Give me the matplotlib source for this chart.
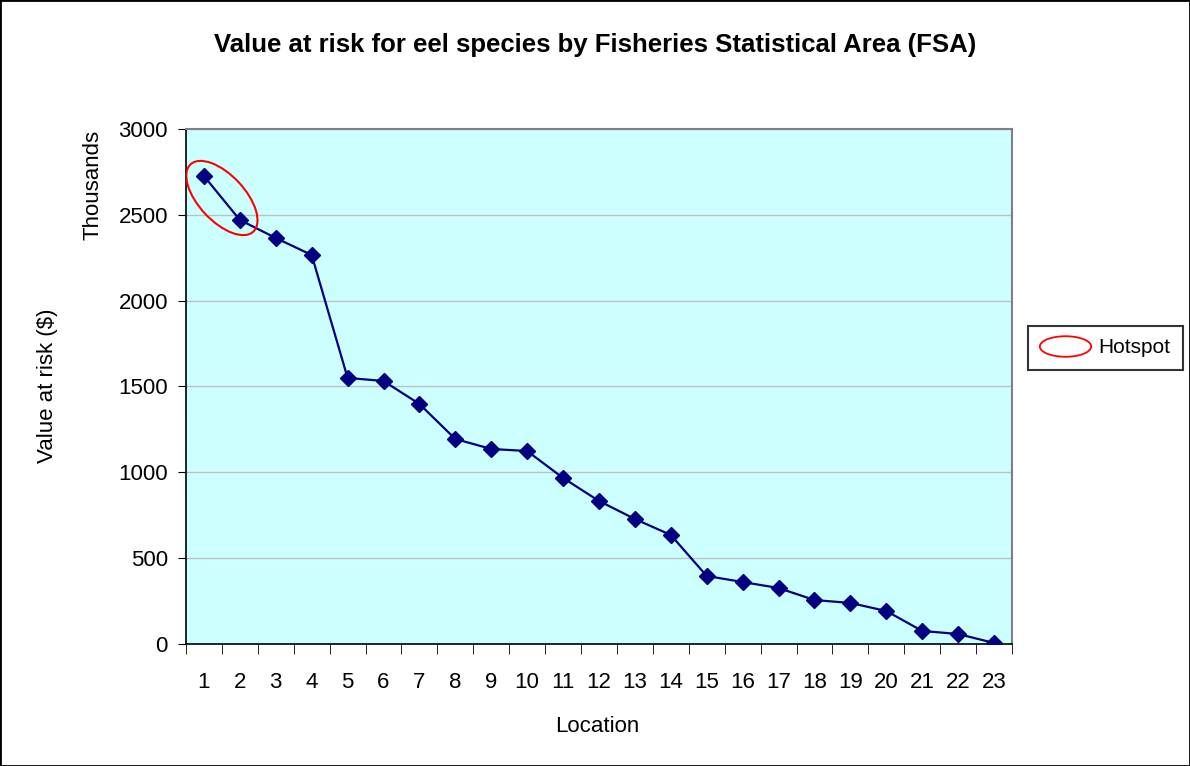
import matplotlib.pyplot as plt
from matplotlib.patches import Ellipse, Rectangle
from matplotlib.path import Path
from matplotlib.lines import Line2D
from matplotlib.transforms import Affine2D, ScaledTranslation

plt.rcParams['font.family'] = ['Liberation Sans', 'DejaVu Sans']

locations = list(range(1, 24))
value_k = [2726, 2470, 2365, 2266, 1550, 1532, 1398, 1194, 1136, 1124, 967,
           833, 728, 635, 396, 361, 326, 256, 239, 192, 76, 58, 6]
y_ticks = [0, 500, 1000, 1500, 2000, 2500, 3000]

fig = plt.figure(figsize=(11.9, 7.66), dpi=100)
ax = fig.add_axes([0.1563, 0.1593, 0.6941, 0.6723])
ax.set_facecolor('#ccffff')

ax.plot(locations, value_k, color='#000080', lw=1.6, marker='D', ms=8,
        markerfacecolor='#000080', markeredgecolor='#000080', zorder=3)

ax.set_xlim(0.5, 23.5)
ax.set_ylim(0, 3000)
ax.set_yticks(y_ticks)
ax.set_xticks(locations)
ax.set_xticks([i + 0.5 for i in range(0, 24)], minor=True)
ax.tick_params(axis='x', which='major', length=0, pad=20, labelsize=16)
ax.tick_params(axis='x', which='minor', length=7, direction='out', color='black')
ax.tick_params(axis='y', length=6, direction='out', labelsize=16, pad=7)
ax.yaxis.grid(True, color='#c0c0c0', lw=1)
ax.set_axisbelow(True)
for s in ['top', 'right']:
    ax.spines[s].set_color('#808080')
    ax.spines[s].set_linewidth(1.5)
for s in ['left', 'bottom']:
    ax.spines[s].set_color('black')
    ax.spines[s].set_linewidth(1.2)

fig.text(0.502, 0.051, 'Location', fontsize=16, ha='center', va='center')
fig.text(0.040, 0.496, 'Value at risk ($)', rotation=90, fontsize=16,
         ha='center', va='center')
fig.text(0.078, 0.758, 'Thousands', rotation=90, fontsize=16,
         ha='center', va='center')
fig.text(0.5, 0.941, 'Value at risk for eel species by Fisheries Statistical Area (FSA)',
         fontsize=18.5, fontweight='bold', ha='center', va='center')

# hotspot ellipse around the first two points, sized in inches
cx = (locations[0] + locations[1]) / 2
cy = (value_k[0] + value_k[1]) / 2
tr = fig.dpi_scale_trans + ScaledTranslation(cx, cy, ax.transData)
ax.add_patch(Ellipse((0, 0), 0.92, 0.46, angle=-47, fill=False,
                     edgecolor='red', lw=1.5, transform=tr, zorder=4))

oval = Path.unit_circle().transformed(Affine2D().scale(1, 0.4))
handle = Line2D([], [], marker=oval, linestyle='none', markersize=37,
                markerfacecolor='none', markeredgecolor='red', markeredgewidth=1.3)
leg = fig.legend([handle], ['Hotspot'], loc='center', bbox_to_anchor=(0.929, 0.546),
                 fontsize=15, frameon=True, fancybox=False, edgecolor='black',
                 handlelength=2.4, handletextpad=0.4, borderpad=0.6)
leg.get_frame().set_linewidth(1.5)

fig.patches.append(Rectangle((0, 0), 1, 1, transform=fig.transFigure, fill=False,
                             edgecolor='black', lw=2))

fig.savefig('out.png', dpi=100)
